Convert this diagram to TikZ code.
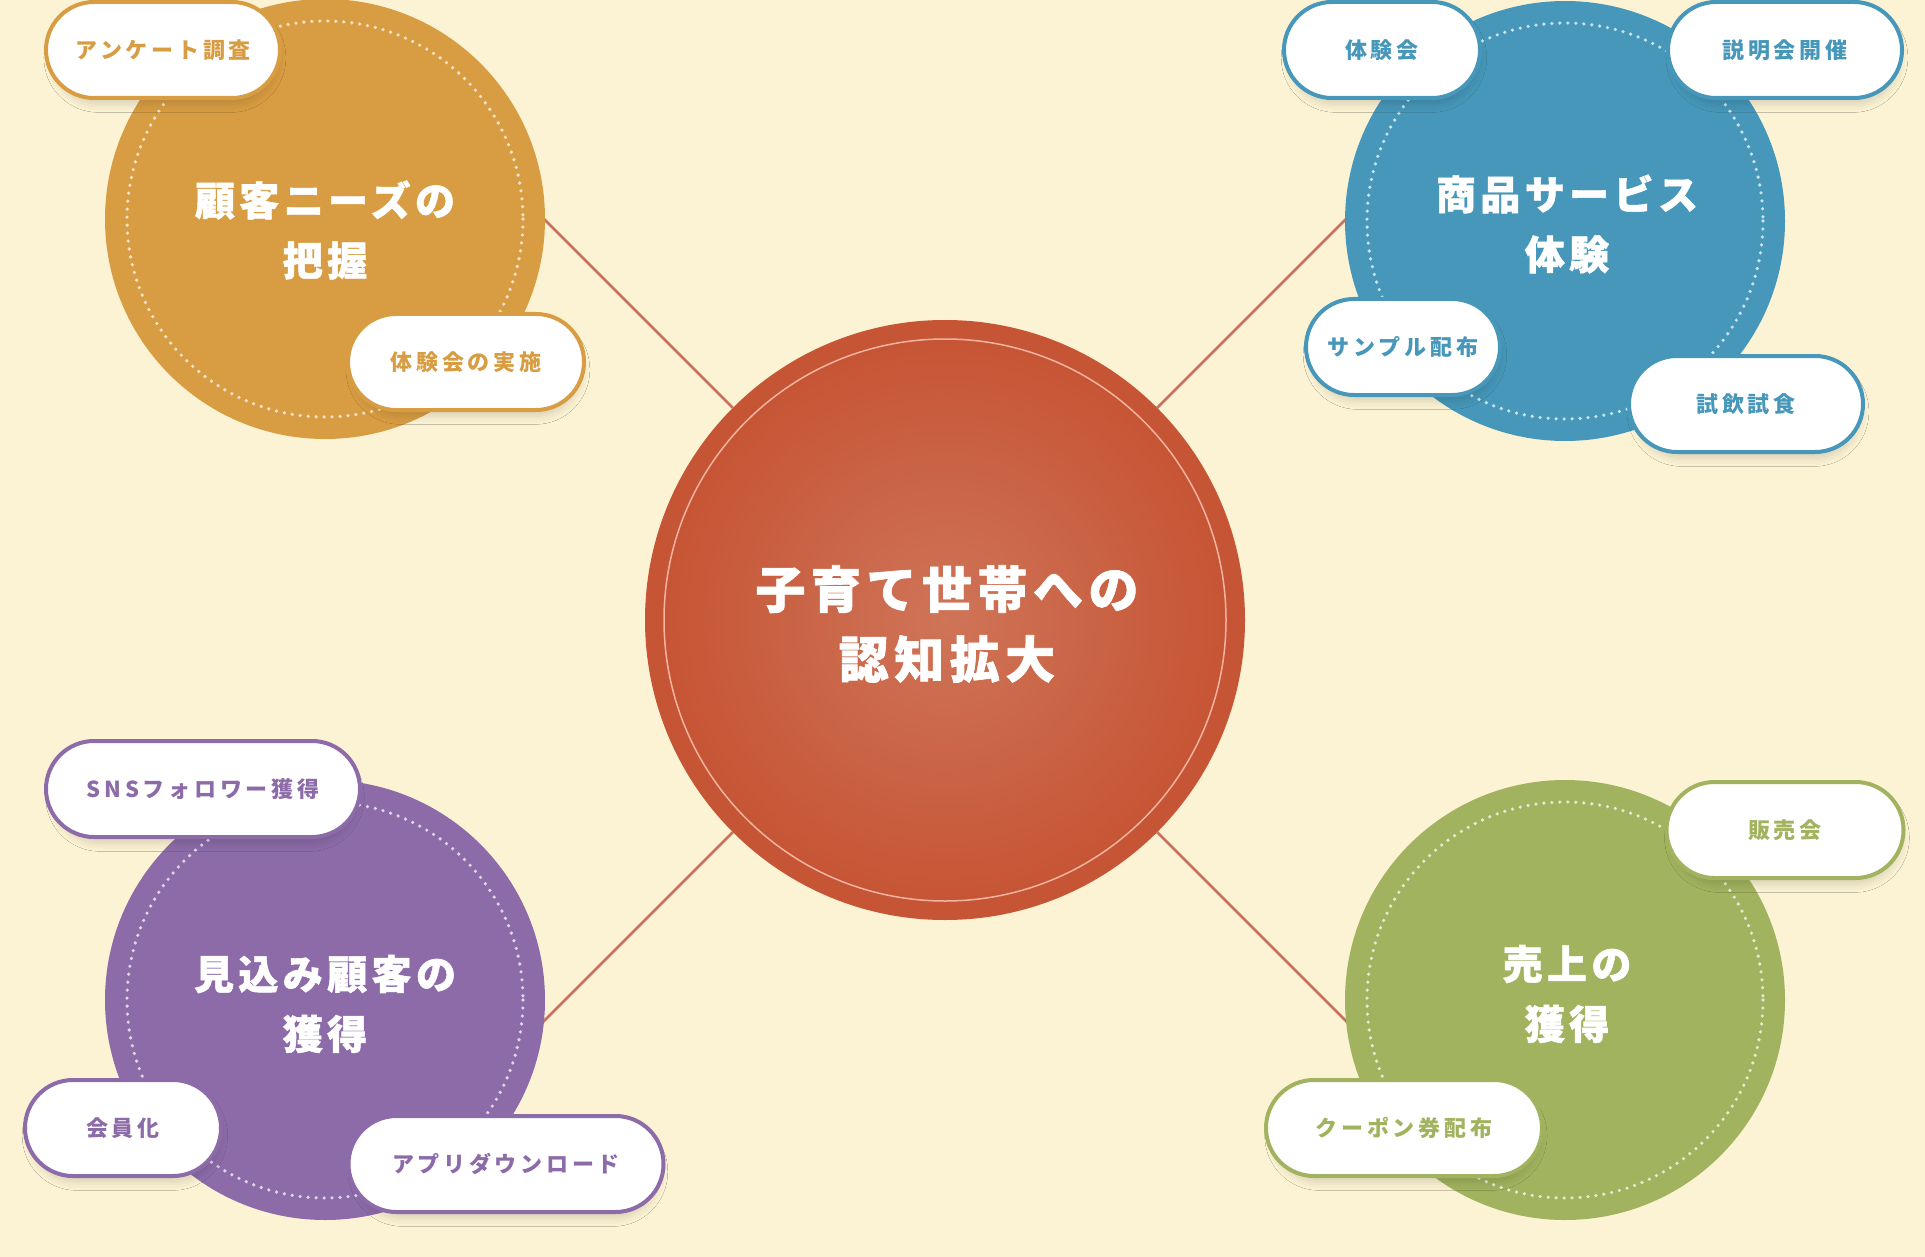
\documentclass[tikz,border=0pt]{standalone}
\usepackage{fontspec}
\usetikzlibrary{shapes.misc,shadows.blur}
\newfontfamily\jphead{Noto Sans CJK JP}[LetterSpace=11, BoldFeatures={FakeBold=1.3}]
\newfontfamily\jptag{Noto Sans CJK JP}[LetterSpace=17]
\definecolor{bgcream}{HTML}{FCF3D4}
\definecolor{hubdark}{HTML}{C65535}
\definecolor{hublight}{HTML}{CF7458}
\definecolor{hubring}{HTML}{F2B4A0}
\definecolor{linkred}{HTML}{C9705E}
\definecolor{needcol}{HTML}{D89D42}
\definecolor{trialcol}{HTML}{4697B9}
\definecolor{leadcol}{HTML}{8C6BA8}
\definecolor{salecol}{HTML}{A1B35E}
\tikzset{
  topic/.style={circle, minimum size=440pt, inner sep=0pt, fill=#1},
  title/.style={text=white, align=center, font=\jphead\bfseries\fontsize{40}{60}\selectfont},
  ring/.style={draw=white, draw opacity=0.72, line width=3.6pt, line cap=round,
    dash pattern=on 0pt off 8pt},
  tag/.style={rounded rectangle, draw=#1, line width=4pt, fill=white, text=#1,
    minimum height=96pt, inner sep=0pt, font=\jptag\bfseries\fontsize{22}{22}\selectfont,
    blur shadow={shadow xshift=2pt, shadow yshift=-8pt, shadow scale=0.96,
      shadow blur radius=9pt, shadow opacity=15}},
  link/.style={draw=linkred, line width=2.5pt}
}
\begin{document}
\begin{tikzpicture}[x=1pt,y=-1pt]
  \useasboundingbox (0,0) rectangle (1925,1257);
  \fill[bgcream] (0,0) rectangle (1925,1257);

  \node[circle, minimum size=600pt, inner sep=0pt, fill=hubdark] (hub) at (945,620) {};
  \shade[inner color=hublight, outer color=hubdark] (hub.center) circle[radius=281];
  \draw[hubring, line width=1.5pt] (hub.center) circle[radius=281];
  \node[title, font=\jphead\bfseries\fontsize{50}{70}\selectfont] (hubtext) at (947,624)
    {子育て世帯への\\認知拡大};

  \foreach \k/\x/\y in {k1/525/200, k2/1365/200, k3/525/1040, k4/1365/1040}
    \coordinate (\k) at (\x,\y);
  \foreach \k in {k1,k2,k3,k4}
    \draw[link] (hub) -- (\k);

  \node[topic=needcol] (needs) at (325,219) {};
  \node[topic=trialcol] (trial) at (1565,221) {};
  \node[topic=leadcol] (leads) at (325,1000) {};
  \node[topic=salecol] (sales) at (1565,1000) {};
  \foreach \nm in {needs,trial,leads,sales}
    \draw[ring] (\nm.center) circle[radius=198];

  \node[title] (needtext) at (325,230) {顧客ニーズの\\把握};
  \node[title] (trialtext) at (1567,224) {商品サービス\\体験};
  \node[title] (leadtext) at (325,1004) {見込み顧客の\\獲得};
  \node[title] (saletext) at (1567,994) {売上の\\獲得};

  \node[tag=needcol, minimum width=234pt] (survey) at (163,50) {アンケート調査};
  \node[tag=needcol, minimum width=236pt] (event) at (466,362) {体験会の実施};

  \node[tag=trialcol, minimum width=196pt] (taiken) at (1382,50) {体験会};
  \node[tag=trialcol, minimum width=234pt] (briefing) at (1785,50) {説明会開催};
  \node[tag=trialcol, minimum width=194pt] (sample) at (1403,347) {サンプル配布};
  \node[tag=trialcol, minimum width=234pt] (tasting) at (1746,404) {試飲試食};

  \node[tag=leadcol, minimum width=314pt] (sns) at (203,789) {SNSフォロワー獲得};
  \node[tag=leadcol, minimum width=196pt] (member) at (123,1128) {会員化};
  \node[tag=leadcol, minimum width=315pt] (app) at (506,1164) {アプリダウンロード};

  \node[tag=salecol, minimum width=237pt] (fair) at (1785,830) {販売会};
  \node[tag=salecol, minimum width=276pt] (coupon) at (1404,1128) {クーポン券配布};
\end{tikzpicture}
\end{document}
